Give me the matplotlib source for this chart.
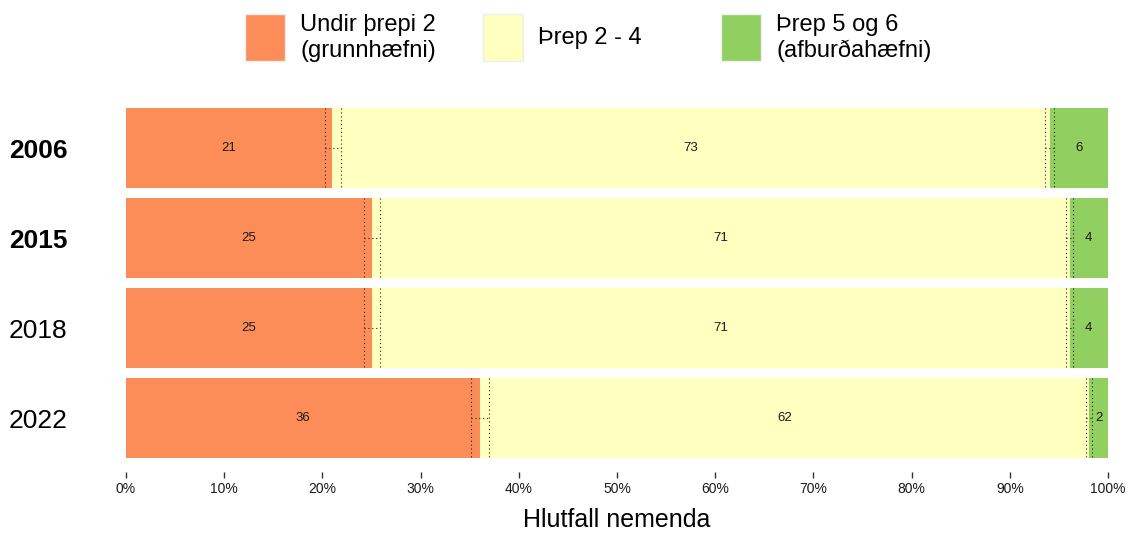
import numpy as np
import matplotlib
matplotlib.use('Agg')
import matplotlib.pyplot as plt
from matplotlib.patches import Rectangle

plt.rcParams['font.family'] = ['Liberation Sans', 'DejaVu Sans']

##############
# data
##############
years = ['2006', '2015', '2018', '2022']
year_bold = [True, True, False, False]

undir = [21.0, 25.0, 25.0, 36.0]      # Undir þrepi 2
threp24 = [73.1, 71.1, 71.1, 62.1]    # Þrep 2 - 4
threp56 = [5.9, 3.9, 3.9, 1.9]        # Þrep 5 og 6

# confidence intervals around the two boundaries
ci1_lo = [20.3, 24.2, 24.2, 35.1]
ci1_hi = [21.85, 25.9, 25.9, 37.0]
ci2_lo = [93.6, 95.7, 95.7, 97.8]
ci2_hi = [94.5, 96.4, 96.4, 98.4]

cat_names = ['Undir þrepi 2\n(grunnhæfni)', 'Þrep 2 - 4', 'Þrep 5 og 6\n(afburðahæfni)']
colors = ['#FC8D59', '#FFFFBF', '#91CF60']

W, H = 1128, 533
fig = plt.figure(figsize=(W / 100, H / 100), dpi=100)
ax = fig.add_axes([126 / W, (H - 472) / H, (1108 - 126) / W, 378 / H])

y = np.arange(len(years))
bh = 0.89
left = np.zeros(len(years))
for vals, col in zip([undir, threp24, threp56], colors):
    vals = np.array(vals)
    ax.barh(y, vals, left=left, height=bh, color=col, edgecolor='none')
    for yi, l, v in zip(y, left, vals):
        ax.text(l + v / 2, yi, '%d' % round(v), ha='center', va='center', fontsize=9.5, color='#1a1a1a')
    left = left + vals

# dotted interval marks
for lo, hi in [(ci1_lo, ci1_hi), (ci2_lo, ci2_hi)]:
    for yi, a, b in zip(y, lo, hi):
        for xv in (a, b):
            ax.plot([xv, xv], [yi - bh / 2, yi + bh / 2], ls=(0, (1, 2.5)), color='#222222', lw=0.8)
        ax.plot([a, b], [yi, yi], ls=(0, (1, 2.5)), color='#222222', lw=0.8)

ax.set_xlim(0, 100)
ax.set_ylim(3.6, -0.6)
for s in ax.spines.values():
    s.set_visible(False)

ax.set_xticks(np.arange(0, 101, 10))
ax.set_xticklabels(['%d%%' % t for t in range(0, 101, 10)], fontsize=10)
ax.tick_params(axis='x', length=4.5, width=1.0, color='#333333', pad=2.5, labelcolor='#1a1a1a')
ax.set_yticks(y)
ax.set_yticklabels(years, fontsize=19)
ax.tick_params(axis='y', length=0, pad=42)
for lab, b in zip(ax.get_yticklabels(), year_bold):
    lab.set_fontweight('bold' if b else 'normal')
fig.text(617 / W, (H - 527) / H, 'Hlutfall nemenda', ha='center', va='baseline', fontsize=18)

# legend on top
key_x = [245, 483, 721]
for kx, col, name in zip(key_x, colors, cat_names):
    fig.add_artist(Rectangle((kx / W, (H - 61) / H), 40 / W, 47 / H, transform=fig.transFigure,
                             facecolor=col, edgecolor='#eeeeee', lw=1))
    fig.text((kx + 55) / W, (H - 38) / H, name, ha='left', va='center', fontsize=17, linespacing=1.2)

fig.savefig('out.png', dpi=100)
